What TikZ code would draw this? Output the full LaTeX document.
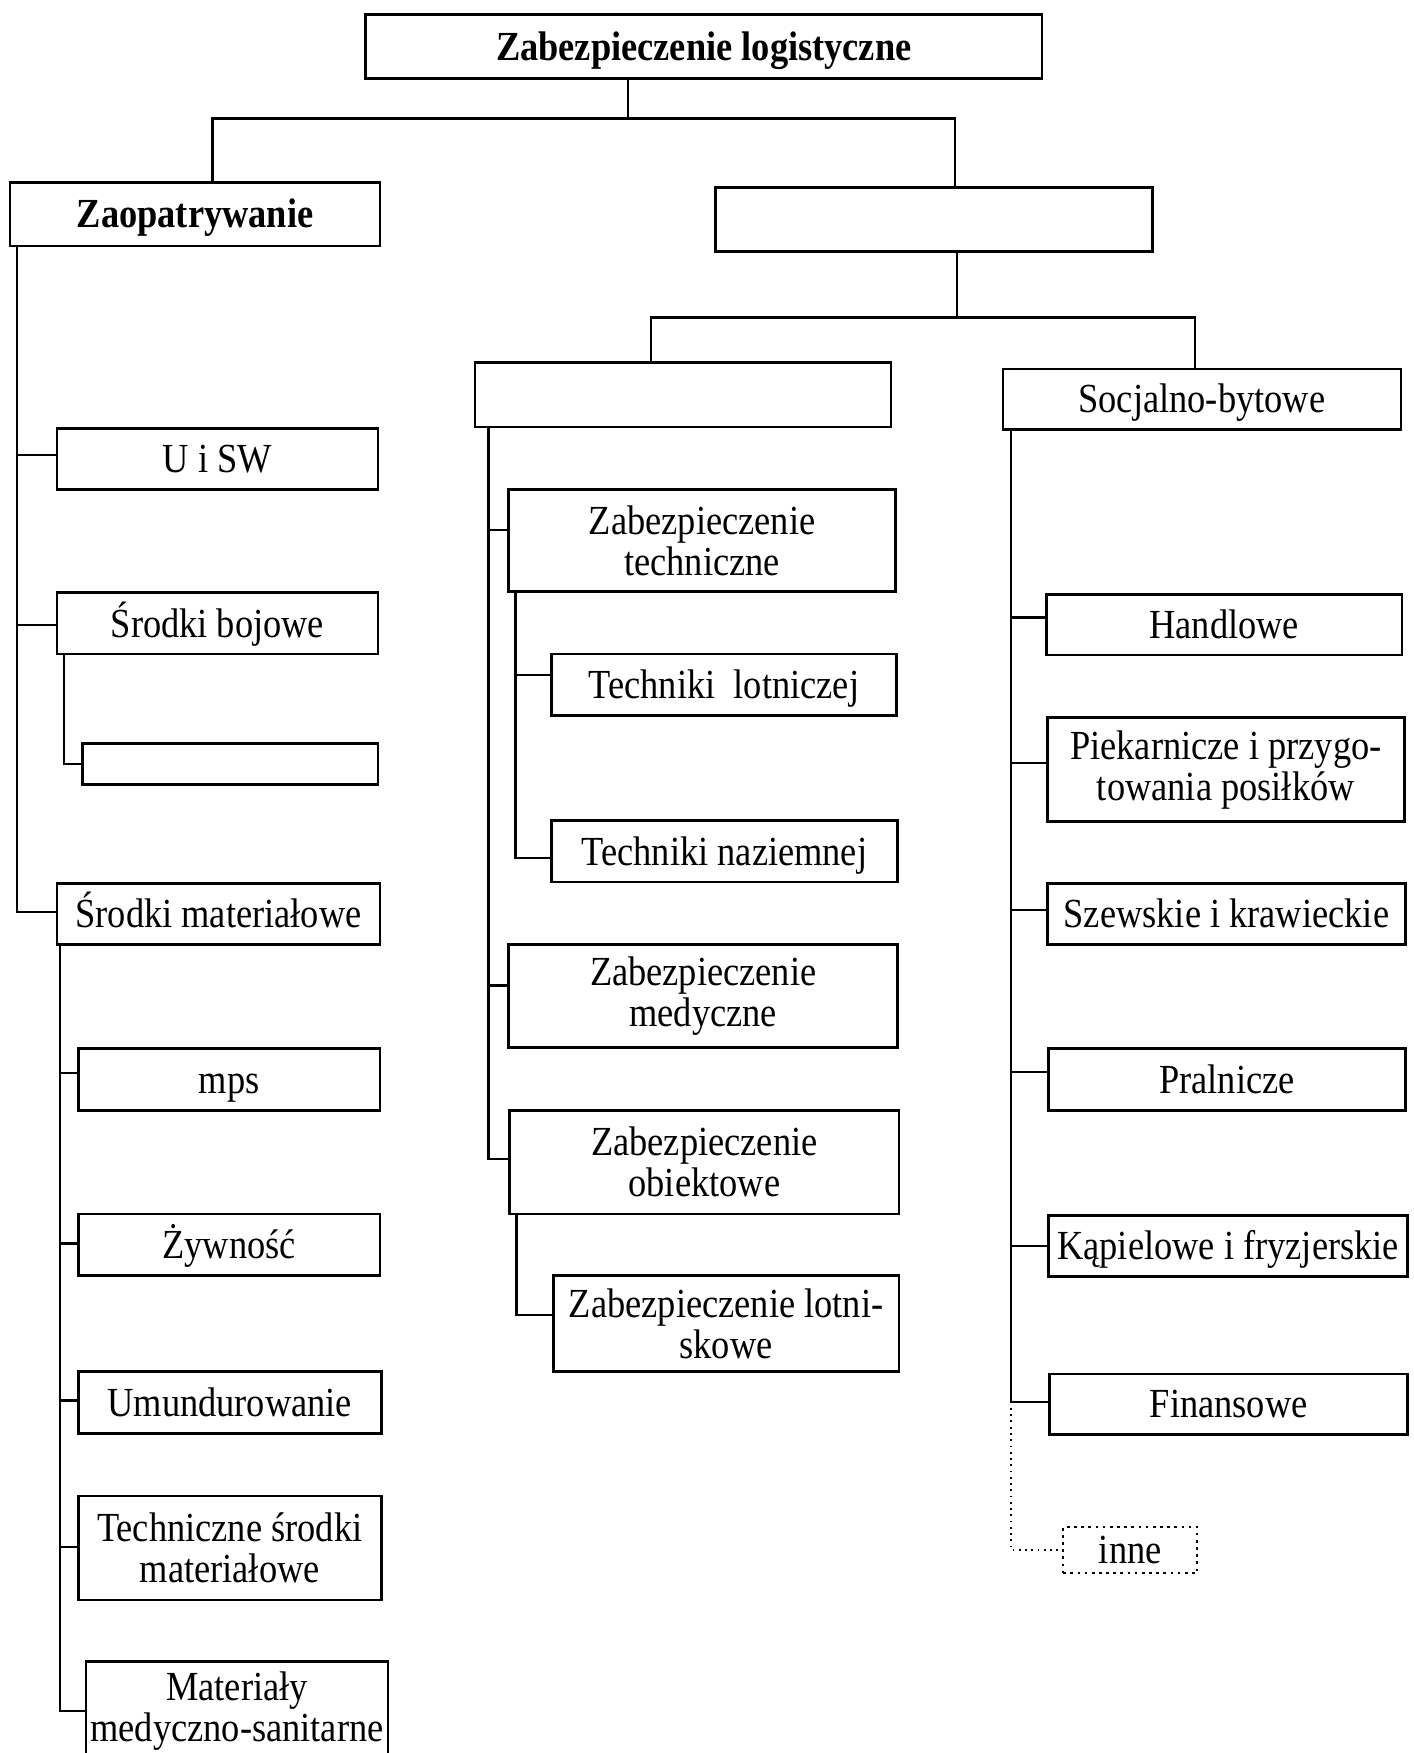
\documentclass[tikz,border=0pt]{standalone}
\usepackage{fontspec}
\setmainfont{Liberation Serif}[FakeStretch=0.88]
\usetikzlibrary{calc}
% one drawing unit is half a point
\newcommand\boxat[7][bx]{%
  \pgfmathsetmacro\bxcx{(#3+#5)/2}%
  \pgfmathsetmacro\bxcy{(#4+#6)/2}%
  \pgfmathsetmacro\bxw{(#5-#3)/2}%
  \pgfmathsetmacro\bxh{(#6-#4)/2}%
  \node[#1, minimum width=\bxw pt, minimum height=\bxh pt] (#2) at (\bxcx,\bxcy) {#7};}
% branch from a parent box down a trunk and across to a child box
\newcommand\branch[5][link]{%
  \draw[#1] (#2.south -| #3) |- ($(#4.north west)!#5!(#4.south west)$);}
\begin{document}
\begin{tikzpicture}[x=0.5pt,y=-0.5pt,
  bx/.style={draw, line width=1.2pt, inner sep=0pt, align=center,
             font=\fontsize{18.5}{18.5}\selectfont},
  one/.style={bx, text height=12.6pt, text depth=0.3pt},
  dotbx/.style={one, dotted, line width=0.9pt},
  link/.style={line width=1pt},
  dotlink/.style={line width=0.8pt, dotted}]
\useasboundingbox (0,0) rectangle (1264,1568);
\fill[white] (0,0) rectangle (1264,1568);

% ---- top levels
\boxat[one]{root}{327}{13}{932}{70}{\textbf{Zabezpieczenie logistyczne}}
\boxat[one]{zaop}{9}{163}{340}{220}{\textbf{Zaopatrywanie}}
\boxat{svc}{640}{168}{1031}{225}{}
\boxat{mid}{425}{324}{797}{382}{}
\boxat[one]{soc}{897}{330}{1253}{384}{Socjalno-bytowe}

% ---- supply branch
\boxat[one]{usw}{51}{383}{338}{438}{U i SW}
\boxat[one]{boj}{51}{530}{338}{585}{Środki bojowe}
\boxat{bojsub}{74}{665}{338}{702}{}
\boxat[one]{mat}{51}{790}{340}{845}{Środki materiałowe}
\boxat[one]{mps}{70}{938}{340}{993}{mps}
\boxat[one]{zyw}{70}{1086}{340}{1141}{Żywność}
\boxat[one]{umu}{70}{1227}{341}{1282}{Umundurowanie}
\boxat{tsm}{70}{1338}{341}{1431}{Techniczne środki\\materiałowe}
\boxat{mms}{77}{1486}{347}{1575}{Materiały\\medyczno-sanitarne}

% ---- middle branch
\boxat{ztech}{455}{438}{801}{529}{Zabezpieczenie\\techniczne}
\boxat[one]{tlot}{493}{585}{802}{640}{Techniki\ \ lotniczej}
\boxat[one]{tnaz}{493}{734}{803}{789}{Techniki naziemnej}
\boxat{zmed}{455}{845}{803}{937}{Zabezpieczenie\\medyczne}
\boxat{zobi}{456}{993}{804}{1086}{Zabezpieczenie\\obiektowe}
\boxat{zlot}{495}{1141}{804}{1227}{Zabezpieczenie lotni-\\skowe}

% ---- social branch
\boxat[one]{han}{936}{532}{1254}{586}{Handlowe}
\boxat{pie}{937}{642}{1256}{735}{Piekarnicze i przygo-\\towania posiłków}
\boxat[one]{sze}{937}{790}{1257}{845}{Szewskie i krawieckie}
\boxat[one]{pra}{938}{938}{1257}{993}{Pralnicze}
\boxat[one]{kap}{938}{1087}{1259}{1142}{Kąpielowe i fryzjerskie}
\boxat[one]{fin}{939}{1229}{1259}{1283}{Finansowe}
\boxat[dotbx]{inne}{951}{1366}{1071}{1407}{inne}

% ---- junction points
\coordinate (j0) at (562,106);
\coordinate (jl) at (190,106);
\coordinate (jr) at (854,106);
\coordinate (k0) at (856,284);
\coordinate (kl) at (582,284);
\coordinate (kr) at (1069,284);
\coordinate (L) at (15,0);
\coordinate (B) at (57,0);
\coordinate (M) at (54,0);
\coordinate (C) at (437,0);
\coordinate (T) at (461,0);
\coordinate (O) at (462,0);
\coordinate (R) at (904,0);
\coordinate (finT) at ($(fin.north west)!0.46!(fin.south west)$);

% ---- upper connectors
\draw[link] (root.south -| j0) -- (j0);
\draw[link] (zaop.north -| jl) -- (jl) -- (jr) -- (svc.north -| jr);
\draw[link] (svc.south -| k0) -- (k0);
\draw[link] (mid.north -| kl) -- (kl) -- (kr) -- (soc.north -| kr);

% ---- supply connectors
\branch{zaop}{L}{usw}{0.44}
\branch{zaop}{L}{boj}{0.53}
\branch{zaop}{L}{mat}{0.47}
\branch{boj}{B}{bojsub}{0.5}
\branch{mat}{M}{mps}{0.4}
\branch{mat}{M}{zyw}{0.48}
\branch{mat}{M}{umu}{0.47}
\branch{mat}{M}{tsm}{0.49}
\branch{mat}{M}{mms}{0.5}

% ---- middle connectors
\branch{mid}{C}{ztech}{0.4}
\branch{mid}{C}{zmed}{0.4}
\branch{mid}{C}{zobi}{0.47}
\branch{ztech}{T}{tlot}{0.35}
\branch{ztech}{T}{tnaz}{0.6}
\branch{zobi}{O}{zlot}{0.41}

% ---- social connectors
\branch{soc}{R}{han}{0.38}
\branch{soc}{R}{pie}{0.44}
\branch{soc}{R}{sze}{0.44}
\branch{soc}{R}{pra}{0.38}
\branch{soc}{R}{kap}{0.5}
\branch{soc}{R}{fin}{0.46}
\draw[dotlink] (finT -| R) |- (inne.west);
\end{tikzpicture}
\end{document}
